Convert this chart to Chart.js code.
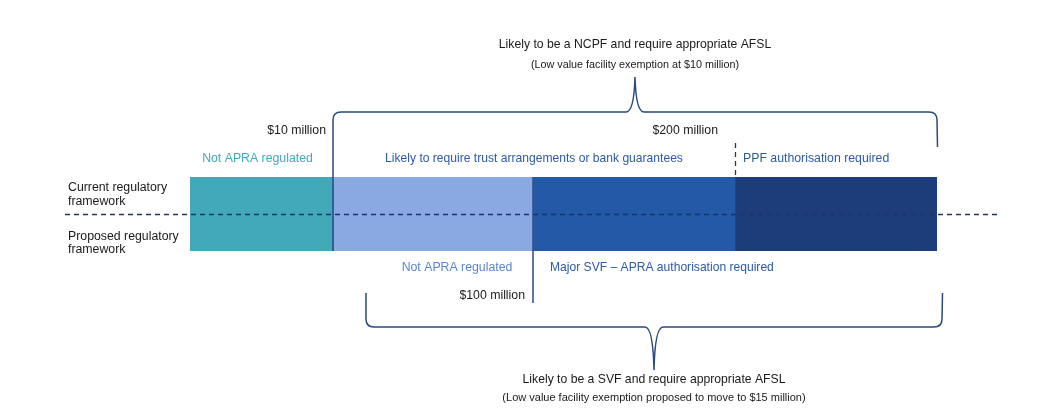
<!DOCTYPE html>
<html>
<head>
<meta charset="utf-8">
<title>Regulatory framework</title>
<script src="https://cdn.jsdelivr.net/npm/chart.js@4.4.1/dist/chart.umd.min.js"></script>
<style>
  html, body { margin: 0; padding: 0; background: #fff; }
  #wrap { width: 1051px; height: 418px; }
</style>
</head>
<body>
<div id="wrap"><canvas id="chart" width="1051" height="418"></canvas></div>
<script>
// bands along the facility-size line (relative units)
const bandNames = ['Not APRA regulated', 'Trust arrangements or bank guarantees', 'Major SVF', 'PPF authorisation']
const bandFrom = [0, 1.43, 3.43, 5.45]
const bandTo = [1.43, 3.43, 5.45, 7.47]

// thresholds marked on the line
const thresholdLabels = ['$10 million', '$100 million', '$200 million']
const thresholdValues = [1.43, 3.43, 5.45]

// row labels
const rowLabels = [['Current regulatory', 'framework'], ['Proposed regulatory', 'framework']]

// band captions above (current) and below (proposed)
const currentCaptions = ['Not APRA regulated', 'Likely to require trust arrangements or bank guarantees', 'PPF authorisation required']
const proposedCaptions = ['Not APRA regulated', 'Major SVF \u2013 APRA authorisation required']

// brace notes
const topNote = ['Likely to be a NCPF and require appropriate AFSL', '(Low value facility exemption at $10 million)']
const bottomNote = ['Likely to be a SVF and require appropriate AFSL', '(Low value facility exemption proposed to move to $15 million)']
const topBraceRange = [1.43, 7.47]
const bottomBraceRange = [1.76, 7.52]

const colours = ['#41a9b9', '#8aa9e2', '#2359a7', '#1c3d79']
const navy = '#2a4a7f'
const ink = '#1a1a1a'
const font = '"Liberation Sans", Arial, sans-serif'

function brace(ctx, x1, x2, y, tipY, leg1, leg2, r) {
    // horizontal curly brace with rounded ends and a pointed tip in the middle
    let mid = (x1 + x2) / 2
    let d1 = leg1 > y ? 1 : -1
    let d2 = leg2 > y ? 1 : -1
    ctx.beginPath()
    ctx.moveTo(x1, leg1)
    ctx.lineTo(x1, y + d1 * r)
    ctx.quadraticCurveTo(x1, y, x1 + r, y)
    ctx.lineTo(mid - 9, y)
    ctx.quadraticCurveTo(mid - 1, y, mid, tipY)
    ctx.quadraticCurveTo(mid + 1, y, mid + 9, y)
    ctx.lineTo(x2 - r, y)
    ctx.quadraticCurveTo(x2, y, x2, y + d2 * r)
    ctx.lineTo(x2 + 0.5, leg2)
    ctx.stroke()
}

function text(ctx, str, x, y, size, colour, align) {
    ctx.font = size + 'px ' + font
    ctx.fillStyle = colour
    ctx.textAlign = align || 'left'
    ctx.textBaseline = 'middle'
    ctx.fillText(str, x, y)
}

const overlay = {
    id: 'overlay',
    afterDatasetsDraw(chart) {
        let ctx = chart.ctx
        let xs = chart.scales.x
        let area = chart.chartArea
        let px = v => xs.getPixelForValue(v)
        let midY = (area.top + area.bottom) / 2 + 0.5

        ctx.save()
        // dividing dashed line between current and proposed
        ctx.strokeStyle = '#1c3566'
        ctx.lineWidth = 1.3
        ctx.setLineDash([5, 4])
        ctx.beginPath()
        ctx.moveTo(65, midY)
        ctx.lineTo(1000, midY)
        ctx.stroke()

        // dashed marker at $200 million
        ctx.beginPath()
        ctx.moveTo(px(thresholdValues[2]) + 0.5, area.top - 34)
        ctx.lineTo(px(thresholdValues[2]) + 0.5, area.top)
        ctx.stroke()
        ctx.setLineDash([])

        // solid marker at $100 million
        ctx.strokeStyle = navy
        ctx.lineWidth = 1.5
        ctx.beginPath()
        ctx.moveTo(px(thresholdValues[1]), area.top)
        ctx.lineTo(px(thresholdValues[1]), area.bottom + 52)
        ctx.stroke()

        // braces
        brace(ctx, px(topBraceRange[0]), px(topBraceRange[1]), area.top - 65, area.top - 100, area.bottom, area.top - 30, 8)
        brace(ctx, px(bottomBraceRange[0]), px(bottomBraceRange[1]), area.bottom + 76, area.bottom + 119, area.bottom + 42, area.bottom + 42, 8)

        // threshold labels
        text(ctx, thresholdLabels[0], px(thresholdValues[0]) - 7, area.top - 46, 12.3, ink, 'right')
        text(ctx, thresholdLabels[1], px(thresholdValues[1]) - 8, area.bottom + 45, 12.3, ink, 'right')
        text(ctx, thresholdLabels[2], px(thresholdValues[2]) - 17, area.top - 46, 12.3, ink, 'right')

        // captions above the bar
        text(ctx, currentCaptions[0], px((bandFrom[0] + bandTo[0]) / 2) - 4, area.top - 18, 12.3, '#41a9b9', 'center')
        text(ctx, currentCaptions[1], px(bandTo[1]) + 1, area.top - 18, 12.1, '#2c5aa3', 'center')
        text(ctx, currentCaptions[2], px(thresholdValues[2]) + 8, area.top - 18, 12.3, '#2c5aa3', 'left')

        // captions below the bar
        text(ctx, proposedCaptions[0], px(2.67), area.bottom + 17, 12.3, '#5a86cf', 'center')
        text(ctx, proposedCaptions[1], px(thresholdValues[1]) + 17, area.bottom + 17, 12.1, '#2c5aa3', 'left')

        // row labels
        text(ctx, rowLabels[0][0], 68, area.top + 11, 12.3, ink)
        text(ctx, rowLabels[0][1], 68, area.top + 25, 12.3, ink)
        text(ctx, rowLabels[1][0], 68, area.top + 60, 12.3, ink)
        text(ctx, rowLabels[1][1], 68, area.top + 73, 12.3, ink)

        // brace notes
        let topMid = (px(topBraceRange[0]) + px(topBraceRange[1])) / 2
        text(ctx, topNote[0], topMid, 45, 12.2, ink, 'center')
        text(ctx, topNote[1], topMid, 65, 10.8, ink, 'center')
        let botMid = (px(bottomBraceRange[0]) + px(bottomBraceRange[1])) / 2
        text(ctx, bottomNote[0], botMid, 380, 12.2, ink, 'center')
        text(ctx, bottomNote[1], botMid, 398, 11, ink, 'center')
        ctx.restore()
    }
}

let datasets = bandNames.map((name, i) => ({
    label: name,
    data: [[bandFrom[i], bandTo[i]]],
    backgroundColor: colours[i],
    borderWidth: 0,
    grouped: false,
    barPercentage: 1,
    categoryPercentage: 1
}))

new Chart(document.getElementById('chart'), {
    type: 'bar',
    data: { labels: ['Framework'], datasets: datasets },
    options: {
        indexAxis: 'y',
        responsive: false,
        animation: false,
        devicePixelRatio: 1,
        layout: { padding: { left: 190, right: 114, top: 177, bottom: 167 } },
        scales: {
            x: { type: 'linear', min: bandFrom[0], max: bandTo[3], display: false },
            y: { display: false }
        },
        plugins: { legend: { display: false }, tooltip: { enabled: false } }
    },
    plugins: [overlay]
})
</script>
</body>
</html>
